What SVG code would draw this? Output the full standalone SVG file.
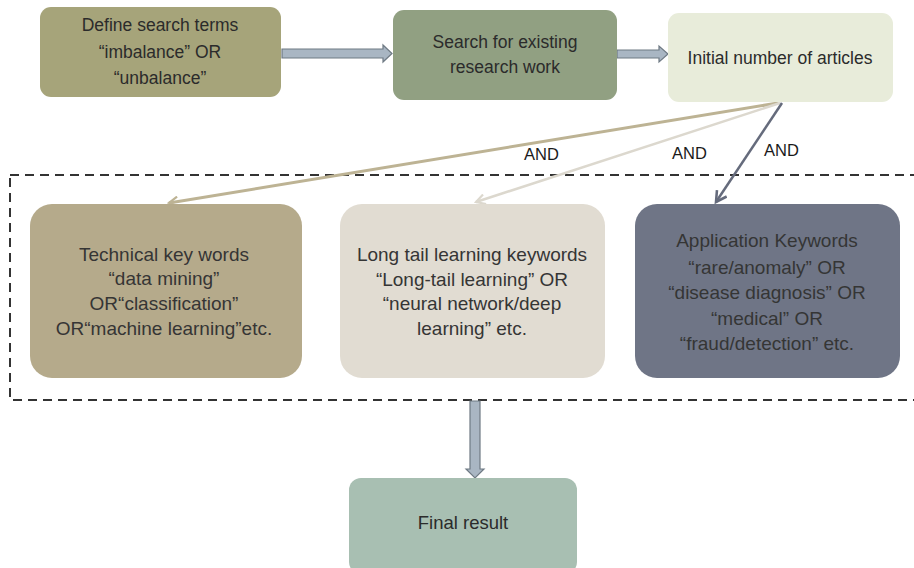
<svg xmlns="http://www.w3.org/2000/svg" width="914" height="568" viewBox="0 0 914 568">
  <defs>
    <style>
      .txt { font-family: "Liberation Sans", Arial, sans-serif; font-size: 17.5px; fill: #2b2b2b; text-anchor: middle; }
      .mid { font-family: "Liberation Sans", Arial, sans-serif; font-size: 19px; fill: #353535; text-anchor: middle; }
      .and { font-family: "Liberation Sans", Arial, sans-serif; font-size: 16.5px; fill: #1a1a1a; }
      .block { fill: #a9b6c3; stroke: #6f7a84; stroke-width: 1.2; }
    </style>
    <marker id="head-tan" viewBox="0 0 12 12" refX="10" refY="6" markerWidth="12" markerHeight="12" markerUnits="userSpaceOnUse" orient="auto">
      <path d="M1,1 L10,6 L1,11" fill="none" stroke="#bdb394" stroke-width="2.2"/>
    </marker>
    <marker id="head-light" viewBox="0 0 12 12" refX="10" refY="6" markerWidth="12" markerHeight="12" markerUnits="userSpaceOnUse" orient="auto">
      <path d="M1,1 L10,6 L1,11" fill="none" stroke="#dcd8ce" stroke-width="2.2"/>
    </marker>
    <marker id="head-slate" viewBox="0 0 12 12" refX="10" refY="6" markerWidth="14" markerHeight="14" markerUnits="userSpaceOnUse" orient="auto">
      <path d="M1,1 L10,6 L1,11" fill="none" stroke="#656b7c" stroke-width="2.2"/>
    </marker>
  </defs>

  <rect width="914" height="568" fill="#ffffff"/>

  <!-- dashed grouping frame -->
  <rect x="10" y="175" width="906" height="225" fill="none" stroke="#333" stroke-width="2" stroke-dasharray="9 6"/>

  <g id="connectors">
    <path class="block" d="M282,49 L383,49 L383,45 L392,53.5 L383,62 L383,58 L282,58 Z"/>
    <path class="block" d="M617,50 L659,50 L659,46 L668,54 L659,62 L659,58 L617,58 Z"/>
    <path class="block" d="M470,401 L480,401 L480,469 L484,469 L475,478 L466,469 L470,469 Z"/>
    <line x1="778" y1="103" x2="169" y2="203" stroke="#bdb394" stroke-width="3" marker-end="url(#head-tan)"/>
    <line x1="780" y1="103" x2="476" y2="202" stroke="#dcd8ce" stroke-width="2.5" marker-end="url(#head-light)"/>
    <line x1="782" y1="103" x2="716" y2="202" stroke="#656b7c" stroke-width="2.5" marker-end="url(#head-slate)"/>
    <text class="and" x="524" y="160">AND</text>
    <text class="and" x="672" y="159">AND</text>
    <text class="and" x="764" y="156">AND</text>
  </g>

  <g id="define-terms">
    <rect x="40" y="7" width="241" height="90" rx="11" fill="#a6a47a"/>
    <text class="txt" x="160" y="31">Define search terms</text>
    <text class="txt" x="160" y="58">“imbalance” OR</text>
    <text class="txt" x="160" y="84">“unbalance”</text>
  </g>

  <g id="search-existing">
    <rect x="393" y="10" width="224" height="90" rx="11" fill="#91a082"/>
    <text class="txt" x="505" y="48">Search for existing</text>
    <text class="txt" x="505" y="73">research work</text>
  </g>

  <g id="initial-articles">
    <rect x="668" y="13" width="225" height="89" rx="11" fill="#e8ecda"/>
    <text class="txt" x="780" y="64">Initial number of articles</text>
  </g>

  <g id="technical-keywords">
    <rect x="30" y="204" width="272" height="174" rx="22" fill="#b5aa8b"/>
    <text class="mid" x="164" y="261">Technical key words</text>
    <text class="mid" x="164" y="285">“data mining”</text>
    <text class="mid" x="164" y="310">OR“classification”</text>
    <text class="mid" x="164" y="335">OR“machine learning”etc.</text>
  </g>

  <g id="long-tail-keywords">
    <rect x="340" y="204" width="265" height="174" rx="22" fill="#e1dcd2"/>
    <text class="mid" x="472" y="261">Long tail learning keywords</text>
    <text class="mid" x="472" y="286">“Long-tail learning” OR</text>
    <text class="mid" x="472" y="310">“neural network/deep</text>
    <text class="mid" x="472" y="335">learning” etc.</text>
  </g>

  <g id="application-keywords">
    <rect x="635" y="204" width="265" height="174" rx="22" fill="#6f7586"/>
    <text class="mid" x="767" y="247" fill="#1e1e1e">Application Keywords</text>
    <text class="mid" x="767" y="274" fill="#1e1e1e">“rare/anomaly” OR</text>
    <text class="mid" x="767" y="299" fill="#1e1e1e">“disease diagnosis” OR</text>
    <text class="mid" x="767" y="325" fill="#1e1e1e">“medical” OR</text>
    <text class="mid" x="767" y="350" fill="#1e1e1e">“fraud/detection” etc.</text>
  </g>

  <g id="final-result">
    <rect x="349" y="478" width="228" height="96" rx="12" fill="#a8bfb2"/>
    <text class="txt" x="463" y="529" style="font-size:18.5px">Final result</text>
  </g>
</svg>
